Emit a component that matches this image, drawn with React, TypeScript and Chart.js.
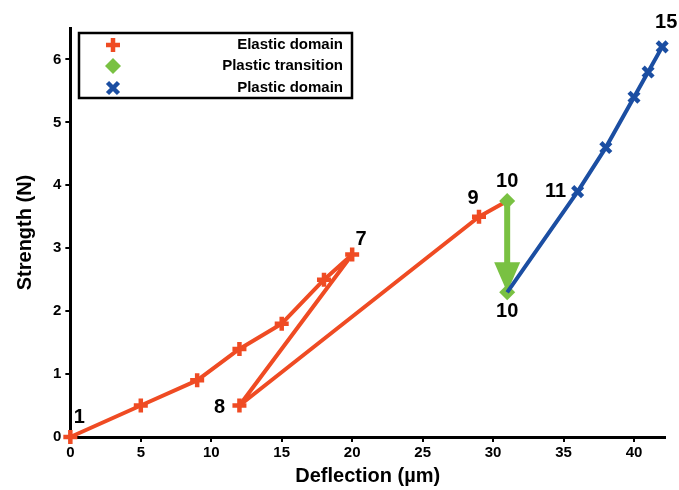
import React, { useEffect, useRef } from "react";
import { Chart, registerables } from "chart.js";

Chart.register(...registerables);

const elasticX = [0, 5, 9, 12, 15, 18, 20, 12, 29, 31];
const elasticY = [0, 0.5, 0.9, 1.4, 1.8, 2.5, 2.9, 0.5, 3.5, 3.75];
const transitionX = [31, 31];
const transitionY = [3.75, 2.3];
const plasticX = [31, 36, 38, 40, 41, 42];
const plasticY = [2.3, 3.9, 4.6, 5.4, 5.8, 6.2];

const seriesLabels = ["Elastic domain", "Plastic transition", "Plastic domain"];
const seriesColors = ["#EF4B23", "#79C142", "#1B4EA2"];

const pointNames = ["1", "7", "8", "9", "10", "10", "11", "15"];
const pointNameX = [0, 20, 12, 29, 31, 31, 36, 42];
const pointNameY = [0, 2.9, 0.5, 3.5, 3.75, 2.3, 3.9, 6.2];
const pointNameOffsets: [number, number][] = [
  [9, -20], [9, -15], [-20, 2], [-6, -18], [0, -20], [0, 19], [-22, 0], [4, -24],
];

const xTickLabels = [0, 5, 10, 15, 20, 25, 30, 35, 40];
const yTickLabels = [0, 1, 2, 3, 4, 5, 6];

const FONT = "'Liberation Sans', Arial, sans-serif";

const zip = (xs: number[], ys: number[]) => xs.map((x, i) => ({ x, y: ys[i] }));

export default function App() {
  const ref = useRef<HTMLCanvasElement>(null);
  useEffect(() => {
    if (!ref.current) return;

    const arrowPlugin = {
      id: "arrow",
      beforeDatasetsDraw(chart: any) {
        const { ctx, scales } = chart;
        const x = scales.x.getPixelForValue(transitionX[0]);
        const y1 = scales.y.getPixelForValue(transitionY[0]);
        const y2 = scales.y.getPixelForValue(transitionY[1]);
        const headLen = 30;
        ctx.save();
        ctx.strokeStyle = seriesColors[1];
        ctx.fillStyle = seriesColors[1];
        ctx.lineWidth = 6;
        ctx.beginPath();
        ctx.moveTo(x, y1);
        ctx.lineTo(x, y2 - headLen + 2);
        ctx.stroke();
        ctx.beginPath();
        ctx.moveTo(x - 13, y2 - headLen);
        ctx.lineTo(x + 13, y2 - headLen);
        ctx.lineTo(x, y2);
        ctx.closePath();
        ctx.fill();
        ctx.restore();
      },
    };

    const labelPlugin = {
      id: "labels",
      afterDatasetsDraw(chart: any) {
        const { ctx, scales } = chart;
        ctx.save();
        ctx.fillStyle = "#000";
        ctx.font = `bold 20px ${FONT}`;
        ctx.textAlign = "center";
        ctx.textBaseline = "middle";
        pointNames.forEach((t, i) => {
          const px = scales.x.getPixelForValue(pointNameX[i]) + pointNameOffsets[i][0];
          const py = scales.y.getPixelForValue(pointNameY[i]) + pointNameOffsets[i][1];
          ctx.fillText(t, px, py);
        });
        ctx.restore();
      },
    };

    const legendPlugin = {
      id: "customLegend",
      afterDraw(chart: any) {
        const ctx = chart.ctx;
        const bx = 79, by = 33, bw = 273, bh = 65;
        ctx.save();
        ctx.fillStyle = "#fff";
        ctx.fillRect(bx, by, bw, bh);
        ctx.strokeStyle = "#000";
        ctx.lineWidth = 2.5;
        ctx.strokeRect(bx, by, bw, bh);
        const rows = [45, 66, 88];
        ctx.font = `bold 15px ${FONT}`;
        ctx.textAlign = "right";
        ctx.textBaseline = "middle";
        rows.forEach((ry, i) => {
          const mx = 113;
          ctx.strokeStyle = seriesColors[i];
          ctx.fillStyle = seriesColors[i];
          ctx.lineWidth = 4.5;
          ctx.beginPath();
          if (i === 0) {
            ctx.moveTo(mx - 7, ry); ctx.lineTo(mx + 7, ry);
            ctx.moveTo(mx, ry - 7); ctx.lineTo(mx, ry + 7);
            ctx.stroke();
          } else if (i === 1) {
            ctx.moveTo(mx, ry - 8); ctx.lineTo(mx + 8, ry); ctx.lineTo(mx, ry + 8); ctx.lineTo(mx - 8, ry);
            ctx.closePath(); ctx.fill();
          } else {
            ctx.moveTo(mx - 5.5, ry - 5.5); ctx.lineTo(mx + 5.5, ry + 5.5);
            ctx.moveTo(mx + 5.5, ry - 5.5); ctx.lineTo(mx - 5.5, ry + 5.5);
            ctx.stroke();
          }
          ctx.fillStyle = "#000";
          ctx.fillText(seriesLabels[i], 343, ry);
        });
        ctx.restore();
      },
    };

    const chart = new Chart(ref.current, {
      type: "scatter",
      data: {
        datasets: [
          {
            label: seriesLabels[0],
            data: zip(elasticX, elasticY),
            showLine: true,
            borderColor: seriesColors[0],
            backgroundColor: seriesColors[0],
            borderWidth: 4,
            borderJoinStyle: "round",
            pointStyle: "cross",
            pointRadius: elasticX.map((_, i) => (i === elasticX.length - 1 ? 0 : 7)),
            pointBorderWidth: 4.5,
            clip: false,
            order: 2,
          },
          {
            label: seriesLabels[1],
            data: zip(transitionX, transitionY),
            showLine: false,
            borderColor: seriesColors[1],
            backgroundColor: seriesColors[1],
            pointStyle: "rectRot",
            pointRadius: 8,
            pointBorderWidth: 0,
            clip: false,
            order: 1,
          },
          {
            label: seriesLabels[2],
            data: zip(plasticX, plasticY),
            showLine: true,
            borderColor: seriesColors[2],
            backgroundColor: seriesColors[2],
            borderWidth: 4,
            borderJoinStyle: "round",
            pointStyle: "crossRot",
            pointRadius: plasticX.map((_, i) => (i === 0 ? 0 : 7)),
            pointBorderWidth: 4.5,
            clip: false,
            order: 0,
          },
        ],
      },
      options: {
        animation: false,
        responsive: false,
        layout: { padding: { top: 28, right: 14, left: 13, bottom: 0 } },
        plugins: { legend: { display: false }, tooltip: { enabled: false } },
        scales: {
          x: {
            type: "linear",
            min: 0,
            max: 42.2,
            afterBuildTicks: (scale: any) => {
              scale.ticks = xTickLabels.map((v) => ({ value: v }));
            },
            border: { color: "#000", width: 3 },
            grid: { drawOnChartArea: false, drawTicks: true, tickLength: 5, color: "#000", lineWidth: 2 },
            ticks: { color: "#000", font: { family: FONT, size: 15, weight: "bold" }, padding: 2 },
            title: {
              display: true,
              text: "Deflection (µm)",
              color: "#000",
              font: { family: FONT, size: 20, weight: "bold" },
              padding: { top: 0, bottom: 2 },
            },
          },
          y: {
            type: "linear",
            min: 0,
            max: 6.5,
            afterBuildTicks: (scale: any) => {
              scale.ticks = yTickLabels.map((v) => ({ value: v }));
            },
            border: { color: "#000", width: 3 },
            grid: { drawOnChartArea: false, drawTicks: true, tickLength: 5, color: "#000", lineWidth: 2 },
            ticks: { color: "#000", font: { family: FONT, size: 15, weight: "bold" }, padding: 4 },
            title: {
              display: true,
              text: "Strength (N)",
              color: "#000",
              font: { family: FONT, size: 20, weight: "bold" },
              padding: { top: 0, bottom: 12 },
            },
          },
        },
      },
      plugins: [arrowPlugin, labelPlugin, legendPlugin],
    } as any);
    return () => chart.destroy();
  }, []);

  return (
    <div style={{ position: "fixed", left: 0, top: 0, width: 679, height: 490, background: "#fff" }}>
      <canvas ref={ref} width={679} height={490} style={{ width: 679, height: 490 }} />
    </div>
  );
}
